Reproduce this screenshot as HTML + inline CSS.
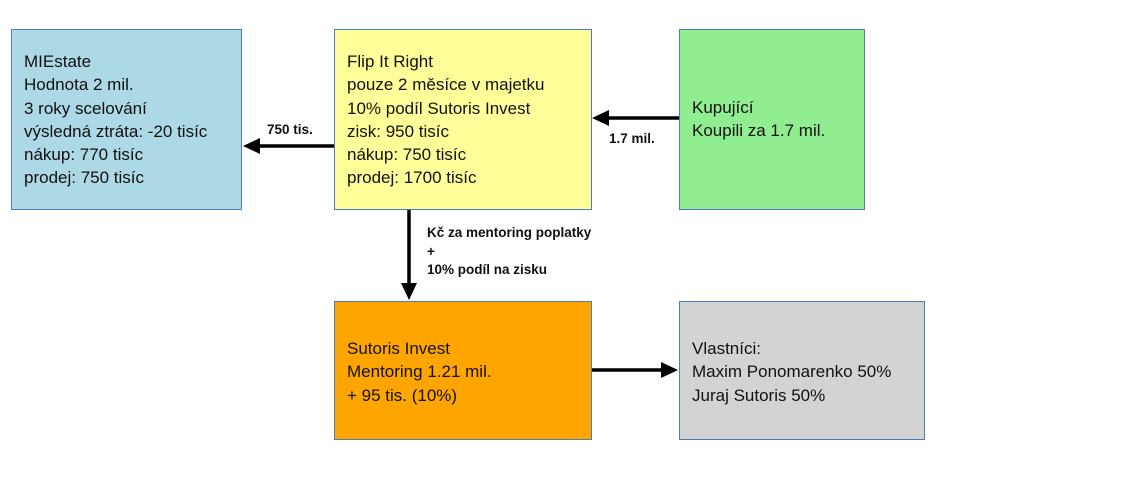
<!DOCTYPE html>
<html><head><meta charset="utf-8"><style>
body{margin:0;width:1130px;height:497px;background:#fff;position:relative;font-family:"Liberation Sans",sans-serif;overflow:hidden}
.b{position:absolute;box-sizing:border-box;border:1px solid #4a7ebb;font-size:17px;line-height:23.3px;color:#111;padding-left:12px;white-space:nowrap}
.l{position:absolute;font-size:13.5px;font-weight:bold;color:#111;line-height:18.5px;white-space:nowrap}
</style></head><body>
<div class="b" style="left:11px;top:29px;width:231px;height:181px;background:#add8e6;padding-top:20px">MIEstate<br>Hodnota 2 mil.<br>3 roky scelování<br>výsledná ztráta: -20 tisíc<br>nákup: 770 tisíc<br>prodej: 750 tisíc</div>
<div class="b" style="left:334px;top:29px;width:258px;height:181px;background:#ffff99;padding-top:20px">Flip It Right<br>pouze 2 měsíce v majetku<br>10% podíl Sutoris Invest<br>zisk: 950 tisíc<br>nákup: 750 tisíc<br>prodej: 1700 tisíc</div>
<div class="b" style="left:679px;top:29px;width:186px;height:181px;background:#90ee90;padding-top:66px">Kupující<br>Koupili za 1.7 mil.</div>
<div class="b" style="left:334px;top:301px;width:258px;height:139px;background:#ffa500;padding-top:35px">Sutoris Invest<br>Mentoring 1.21 mil.<br>+ 95 tis. (10%)</div>
<div class="b" style="left:679px;top:301px;width:246px;height:139px;background:#d3d3d3;padding-top:35px">Vlastníci:<br>Maxim Ponomarenko 50%<br>Juraj Sutoris 50%</div>
<svg width="1130" height="497" style="position:absolute;left:0;top:0">
<g stroke="#000" stroke-width="3.5" fill="#000">
<line x1="334" y1="146" x2="258" y2="146"/><polygon points="243,146 260,138 260,154" stroke="none"/>
<line x1="679" y1="118" x2="607" y2="118"/><polygon points="592,118 609,110 609,126" stroke="none"/>
<line x1="409" y1="210" x2="409" y2="285"/><polygon points="409,300 401,283 417,283" stroke="none"/>
<line x1="592" y1="370" x2="663" y2="370"/><polygon points="678,370 661,362 661,378" stroke="none"/>
</g></svg>
<div class="l" style="left:267px;top:121px">750 tis.</div>
<div class="l" style="left:609px;top:130px">1.7 mil.</div>
<div class="l" style="left:427px;top:224px">Kč za mentoring poplatky<br>+<br>10% podíl na zisku</div>
</body></html>
